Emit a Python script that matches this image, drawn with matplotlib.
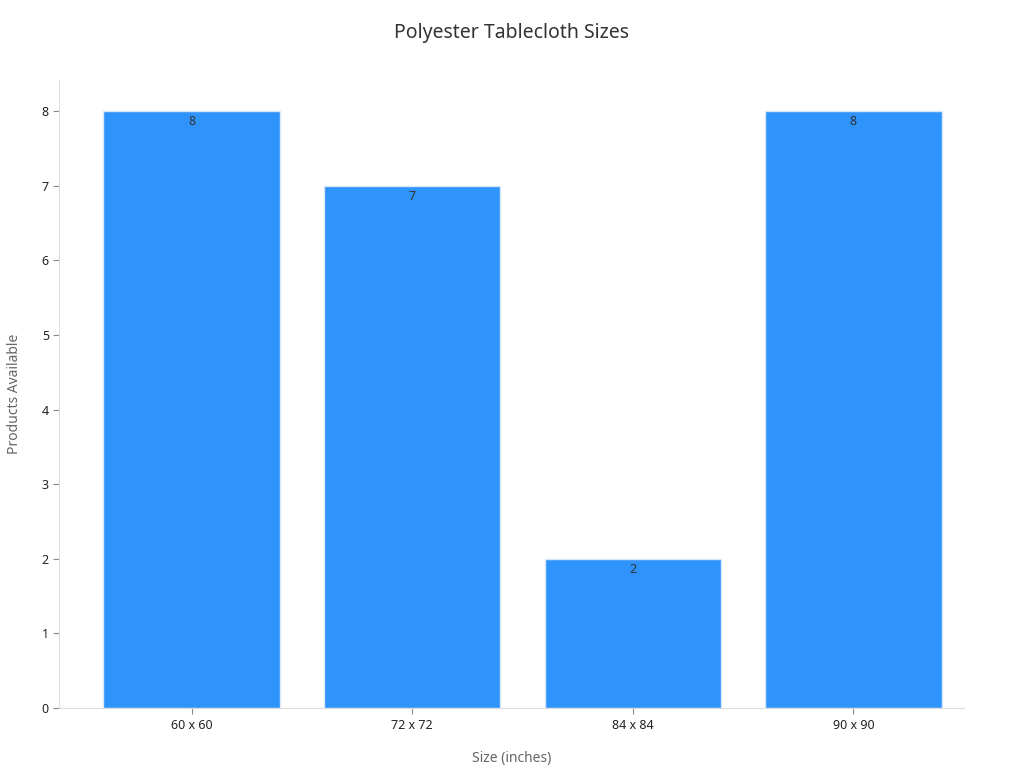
import matplotlib
matplotlib.use("Agg")
import matplotlib.pyplot as plt

categories = ["60 x 60", "72 x 72", "84 x 84", "90 x 90"]
values = [8, 7, 2, 8]

plt.rcParams['font.family'] = ['Noto Sans', 'DejaVu Sans']
fig = plt.figure(figsize=(10.24, 7.68), dpi=100)
ax = fig.add_axes([0.058, 0.078, 0.883, 0.818])
bars = ax.bar(categories, values, width=0.8, color="#2e93fa", edgecolor="#d8e6f5", linewidth=1)
for b, v in zip(bars, values):
    ax.text(b.get_x() + b.get_width()/2, v - 0.05, str(v), ha="center", va="top", fontsize=9, color="#333333")
ax.set_xlim(-0.6, 3.5)
ax.set_ylim(0, 8.42)
ax.set_yticks(range(9))
ax.tick_params(labelsize=9, colors="#222222")
ax.tick_params(axis='both', color="#888888", length=4)
for s in ["top", "right"]:
    ax.spines[s].set_visible(False)
for s in ["left", "bottom"]:
    ax.spines[s].set_color("#dddddd")
ax.set_xlabel("Size (inches)", fontsize=10, color="#666666", labelpad=14)
ax.set_ylabel("Products Available", fontsize=10, color="#666666", labelpad=14)
fig.suptitle("Polyester Tablecloth Sizes", fontsize=14, color="#333333", y=0.97)
fig.savefig("out.png", dpi=100)
